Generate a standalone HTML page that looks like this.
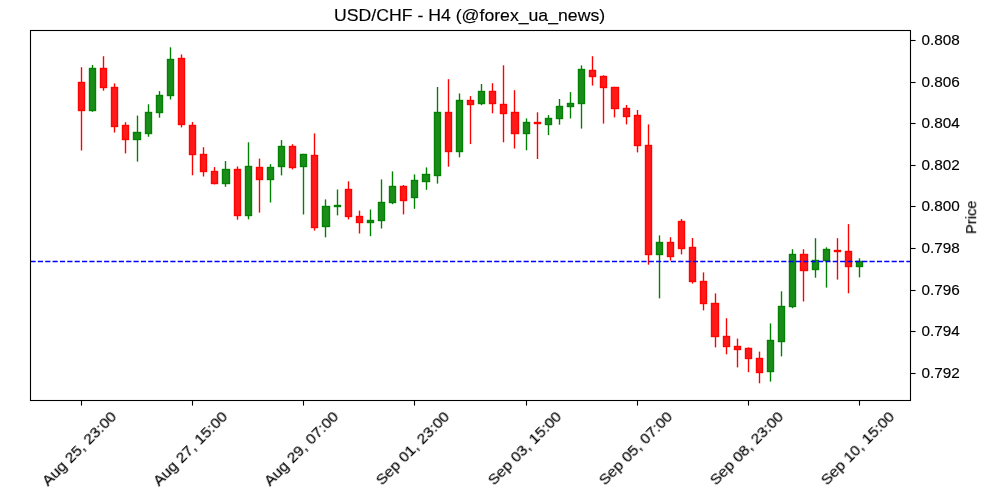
<!DOCTYPE html>
<html><head><meta charset="utf-8"><style>
html,body{margin:0;padding:0;background:#fff;}
svg{display:block;}
text{will-change:transform;stroke:#000;stroke-width:0.15px;}
.t{font-family:"Liberation Sans",sans-serif;font-size:14px;fill:#000;}
.ti{font-family:"Liberation Sans",sans-serif;font-size:17px;fill:#000;}
</style></head><body>
<svg width="1000" height="500" viewBox="0 0 1000 500">
<rect width="1000" height="500" fill="#fff"/>
<line x1="81.5" y1="67.2" x2="81.5" y2="150.5" stroke="#ff0000" stroke-width="1.39"/>
<rect x="78.5" y="82.5" width="6.0" height="28.0" fill="#ff1a1a" stroke="#ff0303" stroke-width="1.39"/>
<line x1="92.5" y1="65.0" x2="92.5" y2="111.8" stroke="#008000" stroke-width="1.39"/>
<rect x="89.5" y="68.5" width="6.0" height="42.0" fill="#1a8c1a" stroke="#038103" stroke-width="1.39"/>
<line x1="103.5" y1="56.2" x2="103.5" y2="90.7" stroke="#ff0000" stroke-width="1.39"/>
<rect x="100.5" y="68.5" width="6.0" height="19.0" fill="#ff1a1a" stroke="#ff0303" stroke-width="1.39"/>
<line x1="114.5" y1="83.4" x2="114.5" y2="132.5" stroke="#ff0000" stroke-width="1.39"/>
<rect x="111.5" y="87.5" width="6.0" height="39.0" fill="#ff1a1a" stroke="#ff0303" stroke-width="1.39"/>
<line x1="125.5" y1="122.2" x2="125.5" y2="153.4" stroke="#ff0000" stroke-width="1.39"/>
<rect x="122.5" y="125.5" width="6.0" height="14.0" fill="#ff1a1a" stroke="#ff0303" stroke-width="1.39"/>
<line x1="137.5" y1="115.6" x2="137.5" y2="161.6" stroke="#008000" stroke-width="1.39"/>
<rect x="133.5" y="132.5" width="7.0" height="7.0" fill="#1a8c1a" stroke="#038103" stroke-width="1.39"/>
<line x1="148.5" y1="104.3" x2="148.5" y2="136.8" stroke="#008000" stroke-width="1.39"/>
<rect x="145.5" y="112.5" width="6.0" height="21.0" fill="#1a8c1a" stroke="#038103" stroke-width="1.39"/>
<line x1="159.5" y1="91.1" x2="159.5" y2="117.7" stroke="#008000" stroke-width="1.39"/>
<rect x="156.5" y="95.5" width="6.0" height="17.0" fill="#1a8c1a" stroke="#038103" stroke-width="1.39"/>
<line x1="170.5" y1="47.3" x2="170.5" y2="99.5" stroke="#008000" stroke-width="1.39"/>
<rect x="167.5" y="59.5" width="6.0" height="36.0" fill="#1a8c1a" stroke="#038103" stroke-width="1.39"/>
<line x1="181.5" y1="54.4" x2="181.5" y2="127.4" stroke="#ff0000" stroke-width="1.39"/>
<rect x="178.5" y="58.5" width="6.0" height="66.0" fill="#ff1a1a" stroke="#ff0303" stroke-width="1.39"/>
<line x1="192.5" y1="122.0" x2="192.5" y2="175.3" stroke="#ff0000" stroke-width="1.39"/>
<rect x="189.5" y="125.5" width="6.0" height="29.0" fill="#ff1a1a" stroke="#ff0303" stroke-width="1.39"/>
<line x1="203.5" y1="147.2" x2="203.5" y2="176.5" stroke="#ff0000" stroke-width="1.39"/>
<rect x="200.5" y="154.5" width="6.0" height="17.0" fill="#ff1a1a" stroke="#ff0303" stroke-width="1.39"/>
<line x1="214.5" y1="167.1" x2="214.5" y2="184.4" stroke="#ff0000" stroke-width="1.39"/>
<rect x="211.5" y="171.5" width="6.0" height="12.0" fill="#ff1a1a" stroke="#ff0303" stroke-width="1.39"/>
<line x1="225.5" y1="161.1" x2="225.5" y2="186.8" stroke="#008000" stroke-width="1.39"/>
<rect x="222.5" y="169.5" width="7.0" height="14.0" fill="#1a8c1a" stroke="#038103" stroke-width="1.39"/>
<line x1="237.5" y1="166.4" x2="237.5" y2="219.7" stroke="#ff0000" stroke-width="1.39"/>
<rect x="234.5" y="169.5" width="6.0" height="46.0" fill="#ff1a1a" stroke="#ff0303" stroke-width="1.39"/>
<line x1="248.5" y1="142.3" x2="248.5" y2="219.3" stroke="#008000" stroke-width="1.39"/>
<rect x="245.5" y="166.5" width="6.0" height="49.0" fill="#1a8c1a" stroke="#038103" stroke-width="1.39"/>
<line x1="259.5" y1="158.6" x2="259.5" y2="212.6" stroke="#ff0000" stroke-width="1.39"/>
<rect x="256.5" y="167.5" width="6.0" height="12.0" fill="#ff1a1a" stroke="#ff0303" stroke-width="1.39"/>
<line x1="270.5" y1="164.1" x2="270.5" y2="202.5" stroke="#008000" stroke-width="1.39"/>
<rect x="267.5" y="167.5" width="6.0" height="12.0" fill="#1a8c1a" stroke="#038103" stroke-width="1.39"/>
<line x1="281.5" y1="140.1" x2="281.5" y2="175.4" stroke="#008000" stroke-width="1.39"/>
<rect x="278.5" y="146.5" width="6.0" height="20.0" fill="#1a8c1a" stroke="#038103" stroke-width="1.39"/>
<line x1="292.5" y1="144.2" x2="292.5" y2="169.4" stroke="#ff0000" stroke-width="1.39"/>
<rect x="289.5" y="146.5" width="6.0" height="21.0" fill="#ff1a1a" stroke="#ff0303" stroke-width="1.39"/>
<line x1="303.5" y1="153.8" x2="303.5" y2="214.5" stroke="#008000" stroke-width="1.39"/>
<rect x="300.5" y="154.5" width="6.0" height="12.0" fill="#1a8c1a" stroke="#038103" stroke-width="1.39"/>
<line x1="314.5" y1="133.4" x2="314.5" y2="230.6" stroke="#ff0000" stroke-width="1.39"/>
<rect x="311.5" y="155.5" width="6.0" height="72.0" fill="#ff1a1a" stroke="#ff0303" stroke-width="1.39"/>
<line x1="325.5" y1="199.4" x2="325.5" y2="237.3" stroke="#008000" stroke-width="1.39"/>
<rect x="322.5" y="206.5" width="7.0" height="20.0" fill="#1a8c1a" stroke="#038103" stroke-width="1.39"/>
<line x1="337.5" y1="189.5" x2="337.5" y2="215.4" stroke="#008000" stroke-width="1.39"/>
<rect x="334.5" y="205.5" width="6.0" height="1.0" fill="#1a8c1a" stroke="#038103" stroke-width="1.39"/>
<line x1="348.5" y1="181.3" x2="348.5" y2="219.4" stroke="#ff0000" stroke-width="1.39"/>
<rect x="345.5" y="189.5" width="6.0" height="27.0" fill="#ff1a1a" stroke="#ff0303" stroke-width="1.39"/>
<line x1="359.5" y1="210.6" x2="359.5" y2="233.5" stroke="#ff0000" stroke-width="1.39"/>
<rect x="356.5" y="216.5" width="6.0" height="6.0" fill="#ff1a1a" stroke="#ff0303" stroke-width="1.39"/>
<line x1="370.5" y1="209.5" x2="370.5" y2="236.2" stroke="#008000" stroke-width="1.39"/>
<rect x="367.5" y="220.5" width="6.0" height="2.0" fill="#1a8c1a" stroke="#038103" stroke-width="1.39"/>
<line x1="381.5" y1="179.4" x2="381.5" y2="228.5" stroke="#008000" stroke-width="1.39"/>
<rect x="378.5" y="202.5" width="6.0" height="18.0" fill="#1a8c1a" stroke="#038103" stroke-width="1.39"/>
<line x1="392.5" y1="171.4" x2="392.5" y2="204.2" stroke="#008000" stroke-width="1.39"/>
<rect x="389.5" y="186.5" width="6.0" height="16.0" fill="#1a8c1a" stroke="#038103" stroke-width="1.39"/>
<line x1="403.5" y1="185.0" x2="403.5" y2="214.4" stroke="#ff0000" stroke-width="1.39"/>
<rect x="400.5" y="186.5" width="6.0" height="14.0" fill="#ff1a1a" stroke="#ff0303" stroke-width="1.39"/>
<line x1="414.5" y1="174.4" x2="414.5" y2="208.8" stroke="#008000" stroke-width="1.39"/>
<rect x="411.5" y="180.5" width="6.0" height="17.0" fill="#1a8c1a" stroke="#038103" stroke-width="1.39"/>
<line x1="426.5" y1="167.4" x2="426.5" y2="189.8" stroke="#008000" stroke-width="1.39"/>
<rect x="422.5" y="174.5" width="7.0" height="7.0" fill="#1a8c1a" stroke="#038103" stroke-width="1.39"/>
<line x1="437.5" y1="87.0" x2="437.5" y2="183.6" stroke="#008000" stroke-width="1.39"/>
<rect x="434.5" y="112.5" width="6.0" height="63.0" fill="#1a8c1a" stroke="#038103" stroke-width="1.39"/>
<line x1="448.5" y1="79.2" x2="448.5" y2="166.7" stroke="#ff0000" stroke-width="1.39"/>
<rect x="445.5" y="112.5" width="6.0" height="39.0" fill="#ff1a1a" stroke="#ff0303" stroke-width="1.39"/>
<line x1="459.5" y1="93.5" x2="459.5" y2="157.3" stroke="#008000" stroke-width="1.39"/>
<rect x="456.5" y="100.5" width="6.0" height="51.0" fill="#1a8c1a" stroke="#038103" stroke-width="1.39"/>
<line x1="470.5" y1="96.1" x2="470.5" y2="144.1" stroke="#ff0000" stroke-width="1.39"/>
<rect x="467.5" y="100.5" width="6.0" height="4.0" fill="#ff1a1a" stroke="#ff0303" stroke-width="1.39"/>
<line x1="481.5" y1="84.0" x2="481.5" y2="105.2" stroke="#008000" stroke-width="1.39"/>
<rect x="478.5" y="91.5" width="6.0" height="12.0" fill="#1a8c1a" stroke="#038103" stroke-width="1.39"/>
<line x1="492.5" y1="83.2" x2="492.5" y2="113.3" stroke="#ff0000" stroke-width="1.39"/>
<rect x="489.5" y="91.5" width="6.0" height="12.0" fill="#ff1a1a" stroke="#ff0303" stroke-width="1.39"/>
<line x1="503.5" y1="65.3" x2="503.5" y2="142.3" stroke="#ff0000" stroke-width="1.39"/>
<rect x="500.5" y="104.5" width="6.0" height="9.0" fill="#ff1a1a" stroke="#ff0303" stroke-width="1.39"/>
<line x1="514.5" y1="90.2" x2="514.5" y2="148.5" stroke="#ff0000" stroke-width="1.39"/>
<rect x="511.5" y="112.5" width="7.0" height="21.0" fill="#ff1a1a" stroke="#ff0303" stroke-width="1.39"/>
<line x1="526.5" y1="118.4" x2="526.5" y2="150.3" stroke="#008000" stroke-width="1.39"/>
<rect x="523.5" y="122.5" width="6.0" height="11.0" fill="#1a8c1a" stroke="#038103" stroke-width="1.39"/>
<line x1="537.5" y1="112.3" x2="537.5" y2="159.0" stroke="#ff0000" stroke-width="1.39"/>
<rect x="534.5" y="122.5" width="6.0" height="1.0" fill="#ff1a1a" stroke="#ff0303" stroke-width="1.39"/>
<line x1="548.5" y1="115.1" x2="548.5" y2="135.1" stroke="#008000" stroke-width="1.39"/>
<rect x="545.5" y="118.5" width="6.0" height="6.0" fill="#1a8c1a" stroke="#038103" stroke-width="1.39"/>
<line x1="559.5" y1="99.0" x2="559.5" y2="124.7" stroke="#008000" stroke-width="1.39"/>
<rect x="556.5" y="106.5" width="6.0" height="12.0" fill="#1a8c1a" stroke="#038103" stroke-width="1.39"/>
<line x1="570.5" y1="92.1" x2="570.5" y2="118.5" stroke="#008000" stroke-width="1.39"/>
<rect x="567.5" y="103.5" width="6.0" height="3.0" fill="#1a8c1a" stroke="#038103" stroke-width="1.39"/>
<line x1="581.5" y1="65.4" x2="581.5" y2="128.6" stroke="#008000" stroke-width="1.39"/>
<rect x="578.5" y="69.5" width="6.0" height="34.0" fill="#1a8c1a" stroke="#038103" stroke-width="1.39"/>
<line x1="592.5" y1="56.2" x2="592.5" y2="85.6" stroke="#ff0000" stroke-width="1.39"/>
<rect x="589.5" y="70.5" width="6.0" height="6.0" fill="#ff1a1a" stroke="#ff0303" stroke-width="1.39"/>
<line x1="603.5" y1="75.3" x2="603.5" y2="123.6" stroke="#ff0000" stroke-width="1.39"/>
<rect x="600.5" y="76.5" width="6.0" height="11.0" fill="#ff1a1a" stroke="#ff0303" stroke-width="1.39"/>
<line x1="614.5" y1="86.8" x2="614.5" y2="117.4" stroke="#ff0000" stroke-width="1.39"/>
<rect x="611.5" y="87.5" width="7.0" height="21.0" fill="#ff1a1a" stroke="#ff0303" stroke-width="1.39"/>
<line x1="626.5" y1="105.0" x2="626.5" y2="124.4" stroke="#ff0000" stroke-width="1.39"/>
<rect x="623.5" y="108.5" width="6.0" height="8.0" fill="#ff1a1a" stroke="#ff0303" stroke-width="1.39"/>
<line x1="637.5" y1="110.0" x2="637.5" y2="152.4" stroke="#ff0000" stroke-width="1.39"/>
<rect x="634.5" y="115.5" width="6.0" height="30.0" fill="#ff1a1a" stroke="#ff0303" stroke-width="1.39"/>
<line x1="648.5" y1="124.4" x2="648.5" y2="264.7" stroke="#ff0000" stroke-width="1.39"/>
<rect x="645.5" y="145.5" width="6.0" height="109.0" fill="#ff1a1a" stroke="#ff0303" stroke-width="1.39"/>
<line x1="659.5" y1="235.4" x2="659.5" y2="298.4" stroke="#008000" stroke-width="1.39"/>
<rect x="656.5" y="242.5" width="6.0" height="12.0" fill="#1a8c1a" stroke="#038103" stroke-width="1.39"/>
<line x1="670.5" y1="237.2" x2="670.5" y2="260.6" stroke="#ff0000" stroke-width="1.39"/>
<rect x="667.5" y="242.5" width="6.0" height="14.0" fill="#ff1a1a" stroke="#ff0303" stroke-width="1.39"/>
<line x1="681.5" y1="219.0" x2="681.5" y2="254.4" stroke="#ff0000" stroke-width="1.39"/>
<rect x="678.5" y="221.5" width="6.0" height="27.0" fill="#ff1a1a" stroke="#ff0303" stroke-width="1.39"/>
<line x1="692.5" y1="238.0" x2="692.5" y2="283.6" stroke="#ff0000" stroke-width="1.39"/>
<rect x="689.5" y="247.5" width="6.0" height="34.0" fill="#ff1a1a" stroke="#ff0303" stroke-width="1.39"/>
<line x1="703.5" y1="272.4" x2="703.5" y2="310.4" stroke="#ff0000" stroke-width="1.39"/>
<rect x="700.5" y="281.5" width="6.0" height="22.0" fill="#ff1a1a" stroke="#ff0303" stroke-width="1.39"/>
<line x1="715.5" y1="293.4" x2="715.5" y2="347.4" stroke="#ff0000" stroke-width="1.39"/>
<rect x="711.5" y="303.5" width="7.0" height="33.0" fill="#ff1a1a" stroke="#ff0303" stroke-width="1.39"/>
<line x1="726.5" y1="318.2" x2="726.5" y2="354.3" stroke="#ff0000" stroke-width="1.39"/>
<rect x="723.5" y="336.5" width="6.0" height="10.0" fill="#ff1a1a" stroke="#ff0303" stroke-width="1.39"/>
<line x1="737.5" y1="338.6" x2="737.5" y2="367.4" stroke="#ff0000" stroke-width="1.39"/>
<rect x="734.5" y="346.5" width="6.0" height="3.0" fill="#ff1a1a" stroke="#ff0303" stroke-width="1.39"/>
<line x1="748.5" y1="347.4" x2="748.5" y2="372.2" stroke="#ff0000" stroke-width="1.39"/>
<rect x="745.5" y="348.5" width="6.0" height="10.0" fill="#ff1a1a" stroke="#ff0303" stroke-width="1.39"/>
<line x1="759.5" y1="351.6" x2="759.5" y2="383.3" stroke="#ff0000" stroke-width="1.39"/>
<rect x="756.5" y="358.5" width="6.0" height="14.0" fill="#ff1a1a" stroke="#ff0303" stroke-width="1.39"/>
<line x1="770.5" y1="323.4" x2="770.5" y2="381.6" stroke="#008000" stroke-width="1.39"/>
<rect x="767.5" y="340.5" width="6.0" height="31.0" fill="#1a8c1a" stroke="#038103" stroke-width="1.39"/>
<line x1="781.5" y1="291.3" x2="781.5" y2="356.4" stroke="#008000" stroke-width="1.39"/>
<rect x="778.5" y="306.5" width="6.0" height="35.0" fill="#1a8c1a" stroke="#038103" stroke-width="1.39"/>
<line x1="792.5" y1="249.2" x2="792.5" y2="308.2" stroke="#008000" stroke-width="1.39"/>
<rect x="789.5" y="254.5" width="6.0" height="52.0" fill="#1a8c1a" stroke="#038103" stroke-width="1.39"/>
<line x1="803.5" y1="249.2" x2="803.5" y2="301.5" stroke="#ff0000" stroke-width="1.39"/>
<rect x="800.5" y="254.5" width="7.0" height="16.0" fill="#ff1a1a" stroke="#ff0303" stroke-width="1.39"/>
<line x1="815.5" y1="238.2" x2="815.5" y2="277.7" stroke="#008000" stroke-width="1.39"/>
<rect x="812.5" y="260.5" width="6.0" height="9.0" fill="#1a8c1a" stroke="#038103" stroke-width="1.39"/>
<line x1="826.5" y1="247.3" x2="826.5" y2="287.6" stroke="#008000" stroke-width="1.39"/>
<rect x="823.5" y="249.5" width="6.0" height="11.0" fill="#1a8c1a" stroke="#038103" stroke-width="1.39"/>
<line x1="837.5" y1="238.2" x2="837.5" y2="279.6" stroke="#ff0000" stroke-width="1.39"/>
<rect x="834.5" y="250.5" width="6.0" height="1.0" fill="#ff1a1a" stroke="#ff0303" stroke-width="1.39"/>
<line x1="848.5" y1="224.1" x2="848.5" y2="293.3" stroke="#ff0000" stroke-width="1.39"/>
<rect x="845.5" y="251.5" width="6.0" height="15.0" fill="#ff1a1a" stroke="#ff0303" stroke-width="1.39"/>
<line x1="859.5" y1="258.3" x2="859.5" y2="277.4" stroke="#008000" stroke-width="1.39"/>
<rect x="856.5" y="261.5" width="6.0" height="5.0" fill="#1a8c1a" stroke="#038103" stroke-width="1.39"/>
<line x1="30.5" y1="261.5" x2="910.5" y2="261.5" stroke="#0000ff" stroke-width="1.39" stroke-dasharray="5.14 2.22"/>
<rect x="30.5" y="30.5" width="880.00" height="370.00" fill="none" stroke="#000" stroke-width="1.1"/>
<line x1="910.5" y1="40.50" x2="915.60" y2="40.50" stroke="#000" stroke-width="1.1"/>
<text x="921.4" y="45.00" class="t" textLength="38.3" lengthAdjust="spacingAndGlyphs">0.808</text>
<line x1="910.5" y1="82.50" x2="915.60" y2="82.50" stroke="#000" stroke-width="1.1"/>
<text x="921.4" y="87.00" class="t" textLength="38.3" lengthAdjust="spacingAndGlyphs">0.806</text>
<line x1="910.5" y1="123.50" x2="915.60" y2="123.50" stroke="#000" stroke-width="1.1"/>
<text x="921.4" y="128.00" class="t" textLength="38.3" lengthAdjust="spacingAndGlyphs">0.804</text>
<line x1="910.5" y1="165.50" x2="915.60" y2="165.50" stroke="#000" stroke-width="1.1"/>
<text x="921.4" y="170.00" class="t" textLength="38.3" lengthAdjust="spacingAndGlyphs">0.802</text>
<line x1="910.5" y1="206.50" x2="915.60" y2="206.50" stroke="#000" stroke-width="1.1"/>
<text x="921.4" y="211.00" class="t" textLength="38.3" lengthAdjust="spacingAndGlyphs">0.800</text>
<line x1="910.5" y1="248.50" x2="915.60" y2="248.50" stroke="#000" stroke-width="1.1"/>
<text x="921.4" y="253.00" class="t" textLength="38.3" lengthAdjust="spacingAndGlyphs">0.798</text>
<line x1="910.5" y1="290.50" x2="915.60" y2="290.50" stroke="#000" stroke-width="1.1"/>
<text x="921.4" y="295.00" class="t" textLength="38.3" lengthAdjust="spacingAndGlyphs">0.796</text>
<line x1="910.5" y1="331.50" x2="915.60" y2="331.50" stroke="#000" stroke-width="1.1"/>
<text x="921.4" y="336.00" class="t" textLength="38.3" lengthAdjust="spacingAndGlyphs">0.794</text>
<line x1="910.5" y1="373.50" x2="915.60" y2="373.50" stroke="#000" stroke-width="1.1"/>
<text x="921.4" y="378.00" class="t" textLength="38.3" lengthAdjust="spacingAndGlyphs">0.792</text>
<line x1="81.50" y1="400.5" x2="81.50" y2="405.60" stroke="#000" stroke-width="1.1"/>
<text transform="translate(117.30,417.50) rotate(-45)" text-anchor="end" class="t" textLength="98" lengthAdjust="spacingAndGlyphs">Aug 25, 23:00</text>
<line x1="192.50" y1="400.5" x2="192.50" y2="405.60" stroke="#000" stroke-width="1.1"/>
<text transform="translate(228.30,417.50) rotate(-45)" text-anchor="end" class="t" textLength="98" lengthAdjust="spacingAndGlyphs">Aug 27, 15:00</text>
<line x1="303.50" y1="400.5" x2="303.50" y2="405.60" stroke="#000" stroke-width="1.1"/>
<text transform="translate(339.30,417.50) rotate(-45)" text-anchor="end" class="t" textLength="98" lengthAdjust="spacingAndGlyphs">Aug 29, 07:00</text>
<line x1="414.50" y1="400.5" x2="414.50" y2="405.60" stroke="#000" stroke-width="1.1"/>
<text transform="translate(450.30,417.50) rotate(-45)" text-anchor="end" class="t" textLength="96.8" lengthAdjust="spacingAndGlyphs">Sep 01, 23:00</text>
<line x1="526.50" y1="400.5" x2="526.50" y2="405.60" stroke="#000" stroke-width="1.1"/>
<text transform="translate(562.30,417.50) rotate(-45)" text-anchor="end" class="t" textLength="96.8" lengthAdjust="spacingAndGlyphs">Sep 03, 15:00</text>
<line x1="637.50" y1="400.5" x2="637.50" y2="405.60" stroke="#000" stroke-width="1.1"/>
<text transform="translate(673.30,417.50) rotate(-45)" text-anchor="end" class="t" textLength="96.8" lengthAdjust="spacingAndGlyphs">Sep 05, 07:00</text>
<line x1="748.50" y1="400.5" x2="748.50" y2="405.60" stroke="#000" stroke-width="1.1"/>
<text transform="translate(784.30,417.50) rotate(-45)" text-anchor="end" class="t" textLength="96.8" lengthAdjust="spacingAndGlyphs">Sep 08, 23:00</text>
<line x1="859.50" y1="400.5" x2="859.50" y2="405.60" stroke="#000" stroke-width="1.1"/>
<text transform="translate(895.30,417.50) rotate(-45)" text-anchor="end" class="t" textLength="96.8" lengthAdjust="spacingAndGlyphs">Sep 10, 15:00</text>
<text x="469.6" y="21.4" text-anchor="middle" class="ti" textLength="271" lengthAdjust="spacingAndGlyphs">USD/CHF - H4 (@forex_ua_news)</text>
<text transform="translate(976.2,217.3) rotate(-90)" text-anchor="middle" class="t" textLength="33.5" lengthAdjust="spacingAndGlyphs">Price</text>
</svg>
</body></html>
